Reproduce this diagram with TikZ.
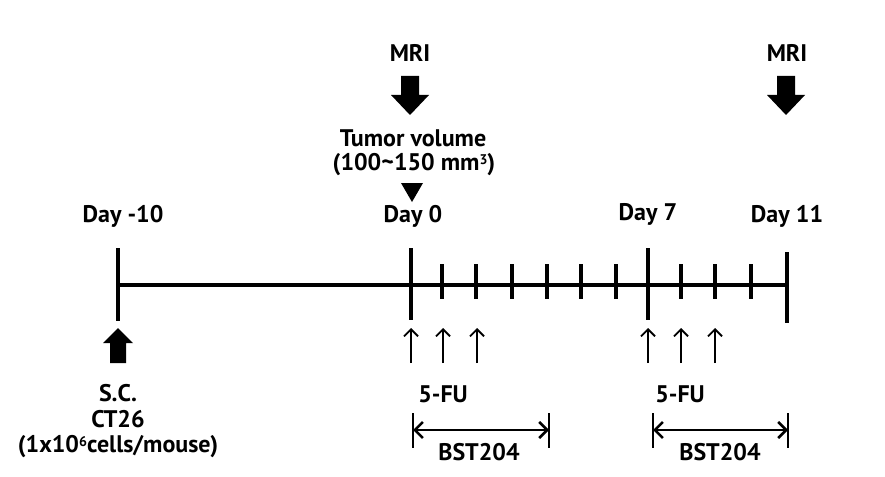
\documentclass[tikz,border=0pt]{standalone}
\usepackage{fontspec}
\setmainfont{PT Sans}
\usetikzlibrary{arrows.meta}
\newcommand{\smallsup}[1]{\raisebox{6.5pt}{\fontsize{14}{14}\selectfont #1}}
\begin{document}
\begin{tikzpicture}[x=1pt,y=-1pt,
  lbl/.style={font=\fontsize{24}{28}\selectfont\bfseries, inner sep=0pt, align=center},
  axis/.style={line width=3.8pt},
  bigtick/.style={line width=3.8pt},
  smalltick/.style={line width=3.6pt},
  thinarr/.style={line width=1.8pt, -{Straight Barb[length=7pt,width=14pt,line width=1.8pt]}},
  span/.style={line width=2.6pt, {Straight Barb[length=8pt,width=16pt,line width=2.6pt]}-{Straight Barb[length=8pt,width=16pt,line width=2.6pt]}},
  spanbar/.style={line width=2.6pt},
  blk/.style={fill=black, draw=none}]
\useasboundingbox (0,0) rectangle (885,476);
% main axis
\coordinate (a0) at (116,285);
\coordinate (a1) at (788,285);
\draw[axis] (a0) -- (a1);
% major ticks
\foreach \n/\x/\t/\b in {tm10/118/248/321, t0/411/248/320, t7/648/248/320, t11/787/252/323}{
  \coordinate (\n top) at (\x,\t);
  \coordinate (\n bot) at (\x,\b);
  \draw[bigtick] (\n top) -- (\n bot);
}
% minor ticks
\foreach \x [count=\i] in {442,476,512,547,581,616,681,715,751}{
  \coordinate (m\i top) at (\x,264);
  \coordinate (m\i bot) at (\x,299);
  \draw[smalltick] (m\i top) -- (m\i bot);
}
% day labels
\node[lbl] (dm10) at (123,216) {Day -10};
\node[lbl] (d0) at (413,216) {Day 0};
\node[lbl] (d7) at (648,214) {Day 7};
\node[lbl] (d11) at (787,216) {Day 11};
% MRI
\node[lbl] (mri1) at (410,53) {MRI};
\node[lbl] (mri2) at (787,53) {MRI};
\foreach \c in {410,786}{
  \fill[blk] (\c-9,76) -- (\c+9,76) -- (\c+9,95) -- (\c+19,95) -- (\c,115) -- (\c-19,95) -- (\c-9,95) -- cycle;
}
% tumor volume
\node[lbl] (tv) at (413,138) {Tumor volume};
\node[lbl] (tvr) at (414,165) {(100\textasciitilde150 mm\smallsup{3})};
\fill[blk] (401,183) -- (423,183) -- (412,202) -- cycle;
% S.C. arrow
\fill[blk] (110,363) -- (126,363) -- (126,343) -- (133,343) -- (118,328) -- (103,343) -- (110,343) -- cycle;
\node[lbl] (sc) at (118,393) {S.C.};
\node[lbl] (ct) at (118,419) {CT26};
\node[lbl] (cells) at (118,447) {(1x10\smallsup{6}cells/mouse)};
% 5-FU arrows
\foreach \x [count=\i] in {411,443,477,648,681,715}{
  \coordinate (f\i b) at (\x,363);
  \coordinate (f\i t) at (\x,328);
  \draw[thinarr] (f\i b) -- (f\i t);
}
\node[lbl] (fu1) at (443,394) {5-FU};
\node[lbl] (fu2) at (680,394) {5-FU};
% BST204 spans
\coordinate (b1l) at (413,430); \coordinate (b1r) at (549,430);
\coordinate (b2l) at (653,430); \coordinate (b2r) at (788,430);
\draw[spanbar] (413,413) -- (413,448);
\draw[spanbar] (549,413) -- (549,448);
\draw[spanbar] (653,413) -- (653,448);
\draw[spanbar] (788,413) -- (788,448);
\draw[span] (b1l) -- (b1r);
\draw[span] (b2l) -- (b2r);
\node[lbl] (bst1) at (479,452) {BST204};
\node[lbl] (bst2) at (720,452) {BST204};
\end{tikzpicture}
\end{document}
